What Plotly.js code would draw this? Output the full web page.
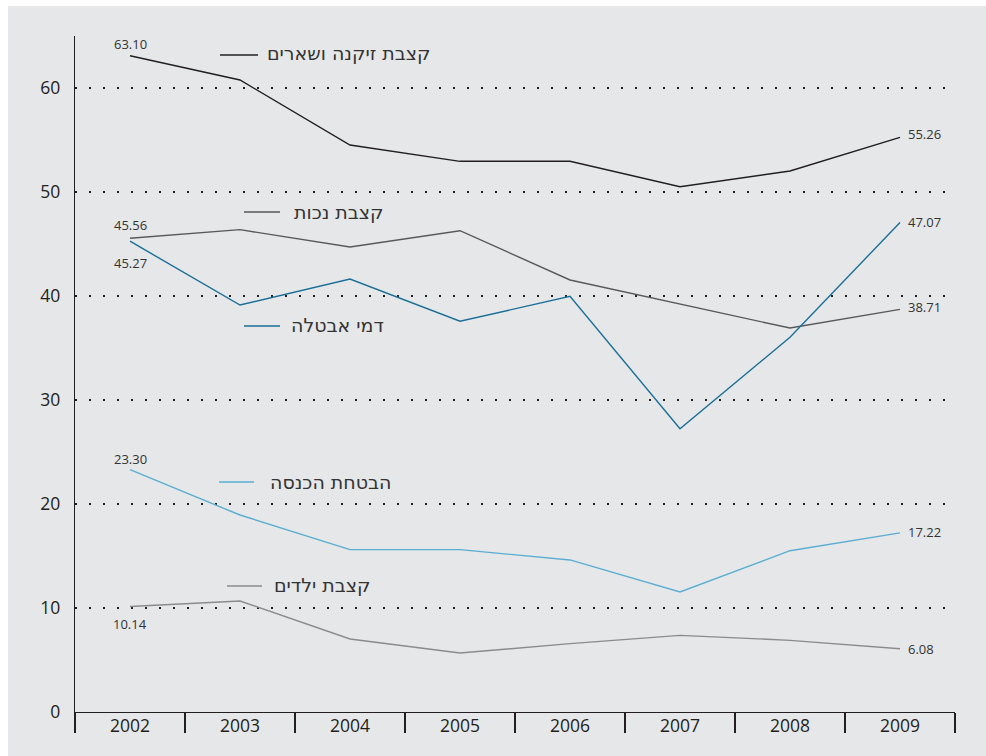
<!DOCTYPE html>
<html>
<head>
<meta charset="utf-8">
<script src="https://cdn.plot.ly/plotly-3.0.1.min.js"></script>
<style>
  html, body { margin: 0; padding: 0; background: #ffffff; width: 986px; height: 756px; overflow: hidden; }
  #chart { position: absolute; left: 8px; top: 6px; width: 978px; height: 750px; }
</style>
</head>
<body>
<div id="chart"></div>
<script>
// ---- data ----
var years = ["2002", "2003", "2004", "2005", "2006", "2007", "2008", "2009"];
var seriesNames = ["קצבת זיקנה ושארים", "קצבת נכות", "דמי אבטלה", "הבטחת הכנסה", "קצבת ילדים"];
var oldAge      = [63.10, 60.77, 54.52, 52.95, 52.95, 50.51, 52.02, 55.26];
var disability  = [45.56, 46.38, 44.71, 46.28, 41.54, 39.20, 36.92, 38.71];
var unemploy    = [45.27, 39.13, 41.63, 37.57, 39.97, 27.24, 36.03, 47.07];
var incomeSupp  = [23.30, 18.94, 15.61, 15.61, 14.62, 11.54, 15.51, 17.22];
var children    = [10.14, 10.67, 7.02, 5.67, 6.57, 7.37, 6.89, 6.08];
var yTicks = [0, 10, 20, 30, 40, 50, 60];

// ---- styling ----
var colors = ["#231f20", "#58595b", "#1a6f98", "#5aaed2", "#8a8b8d"];
var allSeries = [oldAge, disability, unemploy, incomeSupp, children];
var firstShift = [12, 13, -22, 11, -17];   // px offset of first-point value label
var lastShift  = [3, 2, 0, 1, 0];          // px offset of last-point value label
var valueFont = {family: "Open Sans, Noto Sans, sans-serif", size: 13, color: "#333333"};

// inline series labels, page pixels
var labelPos = [
  {tx: 265, ty: 53,  l0: 220, l1: 258, ly: 55},
  {tx: 292, ty: 212, l0: 244, l1: 280, ly: 212},
  {tx: 289, ty: 325, l0: 244, l1: 280, ly: 326},
  {tx: 268, ty: 482, l0: 219, l1: 254, ly: 482},
  {tx: 272, ty: 585, l0: 227, l1: 262, ly: 586}
];
var PL = 75, PR = 955, PT = 36, PB = 712;
function px(x) { return (x - PL) / (PR - PL); }
function py(y) { return (PB - y) / (PB - PT); }

var traces = allSeries.map(function (vals, i) {
  return {
    x: years, y: vals, type: "scatter", mode: "lines",
    name: seriesNames[i],
    line: {color: colors[i], width: 1.4},
    hoverinfo: "skip"
  };
});

var annotations = [], shapes = [];
allSeries.forEach(function (vals, i) {
  var n = vals.length;
  annotations.push({
    xref: "x", yref: "y", x: 0, y: vals[0],
    xanchor: "center", yanchor: "middle", yshift: firstShift[i], showarrow: false,
    text: vals[0].toFixed(2), font: valueFont
  });
  annotations.push({
    xref: "x", yref: "y", x: n - 1, y: vals[n - 1],
    xanchor: "left", yanchor: "middle", xshift: 6, yshift: lastShift[i], showarrow: false,
    text: vals[n - 1].toFixed(2), font: valueFont
  });
});
seriesNames.forEach(function (nm, i) {
  var p = labelPos[i];
  annotations.push({
    xref: "paper", yref: "paper", x: px(p.tx), y: py(p.ty),
    xanchor: "left", yanchor: "middle", showarrow: false,
    text: nm, font: {family: "DejaVu Sans, Open Sans, sans-serif", size: 19, color: "#333333"}
  });
  shapes.push({
    type: "line", xref: "paper", yref: "paper",
    x0: px(p.l0), x1: px(p.l1), y0: py(p.ly), y1: py(p.ly),
    line: {color: colors[i], width: 1.4}
  });
});

var layout = {
  width: 978, height: 750,
  margin: {l: 67, r: 31, t: 30, b: 44},
  paper_bgcolor: "#e6e7e8", plot_bgcolor: "#e6e7e8",
  showlegend: false,
  font: {family: "Open Sans, Noto Sans, sans-serif", color: "#231f20"},
  xaxis: {
    type: "category", range: [-0.5, 7.5], fixedrange: true,
    showgrid: false, zeroline: false,
    showline: true, linecolor: "#231f20", linewidth: 1.2,
    ticks: "outside", tickson: "boundaries", ticklen: 20, tickwidth: 1.2, tickcolor: "#231f20",
    ticklabelstandoff: -2,
    tickfont: {size: 17.5, color: "#231f20"}
  },
  yaxis: {
    range: [0, 65], fixedrange: true,
    tickvals: yTicks, ticktext: yTicks.map(String),
    showgrid: true, gridcolor: "#231f20", gridwidth: 2, griddash: "2px,12px",
    zeroline: false,
    showline: true, linecolor: "#231f20", linewidth: 1.2,
    ticks: "", ticklabelstandoff: 10,
    tickfont: {size: 17.5, color: "#231f20"}
  },
  annotations: annotations,
  shapes: shapes
};

Plotly.newPlot("chart", traces, layout, {staticPlot: true, displayModeBar: false});
</script>
</body>
</html>
